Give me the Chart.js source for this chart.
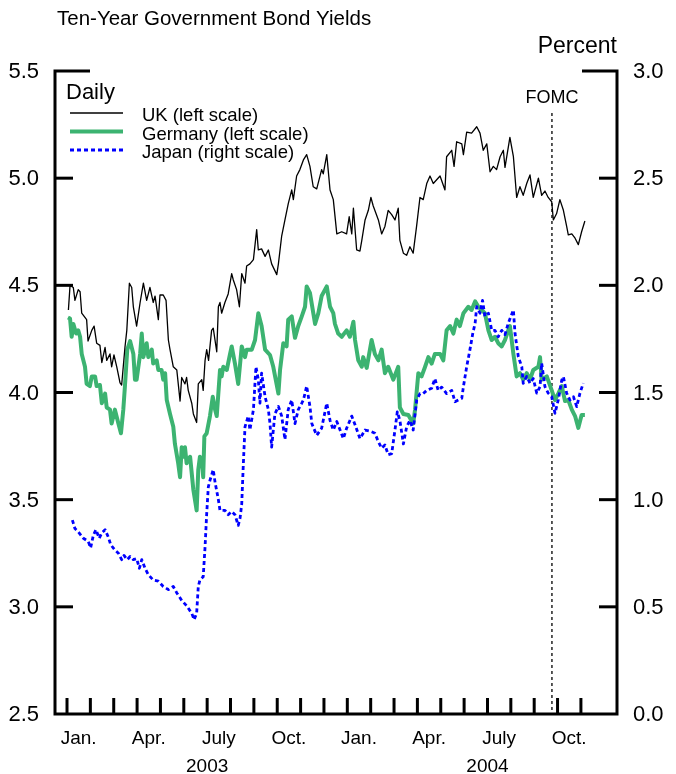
<!DOCTYPE html>
<html>
<head>
<meta charset="utf-8">
<script src="https://cdn.jsdelivr.net/npm/chart.js@4.4.1/dist/chart.umd.min.js"></script>
<style>
  html, body { margin: 0; padding: 0; background: #fff; }
  #wrap { width: 676px; height: 774px; position: relative; }
</style>
</head>
<body>
<div id="wrap"><canvas id="bondChart"></canvas></div>
<script>
//---------------data (x = months since Jan. 1, 2003)--------------------------
const ukMonth = [
  0.06,0.13,0.27,0.34,0.48,0.56,0.63,0.84,0.90,1.06,
  1.16,1.27,1.41,1.49,1.63,1.70,1.84,1.91,2.01,2.13,
  2.27,2.34,2.48,2.56,2.67,2.77,2.84,2.98,3.13,3.27,
  3.41,3.55,3.69,3.77,3.91,3.98,4.12,4.24,4.34,4.41,
  4.55,4.70,4.84,4.91,5.05,5.12,5.19,5.34,5.41,5.55,
  5.62,5.77,5.83,5.91,5.98,6.06,6.19,6.26,6.41,6.48,
  6.55,6.62,6.76,6.90,7.05,7.12,7.26,7.38,7.48,7.62,
  7.69,7.83,7.98,8.12,8.19,8.33,8.48,8.62,8.76,8.98,
  9.05,9.19,9.33,9.47,9.62,9.69,9.83,9.97,10.12,10.26,
  10.40,10.54,10.69,10.90,10.97,11.12,11.26,11.40,11.55,11.76,
  11.97,12.08,12.19,12.26,12.40,12.54,12.62,12.76,12.90,13.01,
  13.11,13.33,13.47,13.61,13.75,13.90,14.04,14.18,14.25,14.40,
  14.54,14.68,14.82,14.97,15.11,15.25,15.40,15.54,15.68,15.97,
  16.18,16.25,16.47,16.57,16.68,16.90,16.97,17.11,17.32,17.54,
  17.68,17.82,17.97,18.11,18.25,18.39,18.54,18.68,18.75,18.96,
  19.11,19.25,19.39,19.53,19.68,19.82,19.96,20.18,20.32,20.46,
  20.60,20.75,20.82,20.96,21.10,21.25,21.39,21.46,21.61,21.75,
  21.89,22.03,22.17
];
const ukYield = [
  4.385,4.50,4.49,4.43,4.48,4.47,4.37,4.34,4.24,4.29,
  4.31,4.23,4.22,4.14,4.21,4.15,4.18,4.12,4.175,4.12,
  4.045,4.035,4.21,4.29,4.51,4.49,4.40,4.31,4.42,4.51,
  4.43,4.49,4.42,4.45,4.34,4.455,4.455,4.43,4.245,4.20,
  4.12,4.105,3.96,4.07,4.04,4.07,4.01,3.95,3.90,3.86,
  4.04,4.06,4.01,4.15,4.20,4.15,4.29,4.30,4.19,4.40,
  4.42,4.37,4.42,4.46,4.555,4.525,4.48,4.40,4.555,4.51,
  4.59,4.60,4.62,4.76,4.665,4.67,4.635,4.665,4.60,4.55,
  4.60,4.73,4.805,4.88,4.945,4.90,5.01,5.04,5.085,5.11,
  5.055,4.96,4.95,5.04,5.02,5.11,4.945,4.90,4.74,4.75,
  4.74,4.82,4.74,4.86,4.665,4.66,4.71,4.805,4.85,4.91,
  4.87,4.805,4.74,4.775,4.85,4.83,4.805,4.86,4.71,4.65,
  4.64,4.68,4.65,4.78,4.91,4.90,4.975,5.01,4.975,5.01,
  4.945,5.10,5.13,5.055,5.17,5.16,5.11,5.215,5.21,5.24,
  5.21,5.13,5.16,5.03,5.055,5.04,5.10,5.13,5.05,5.19,
  5.10,4.91,4.96,4.92,4.975,5.015,4.91,5.00,4.92,4.94,
  4.91,4.89,4.805,4.835,4.90,4.85,4.775,4.735,4.74,4.72,
  4.69,4.75,4.80
];

const deMonth = [
  0.04,0.13,0.20,0.27,0.39,0.48,0.56,0.63,0.77,0.84,
  0.98,1.06,1.20,1.27,1.41,1.49,1.63,1.70,1.84,1.91,
  2.05,2.20,2.31,2.41,2.48,2.58,2.70,2.84,2.91,2.98,
  3.13,3.20,3.27,3.41,3.48,3.63,3.69,3.84,3.91,4.05,
  4.12,4.20,4.27,4.41,4.55,4.62,4.76,4.84,4.91,4.98,
  5.05,5.12,5.27,5.41,5.55,5.62,5.69,5.79,5.83,5.88,
  5.98,6.12,6.24,6.34,6.41,6.55,6.62,6.69,6.84,6.98,
  7.05,7.19,7.33,7.48,7.62,7.69,7.91,8.05,8.19,8.33,
  8.48,8.69,8.83,9.05,9.12,9.26,9.40,9.47,9.62,9.76,
  9.90,10.05,10.19,10.26,10.40,10.62,10.76,10.90,11.12,11.26,
  11.40,11.47,11.61,11.76,11.97,12.11,12.26,12.33,12.47,12.62,
  12.68,12.83,13.04,13.18,13.33,13.47,13.61,13.75,13.97,14.18,
  14.25,14.40,14.61,14.82,14.90,15.04,15.18,15.33,15.47,15.61,
  15.75,15.97,16.11,16.25,16.40,16.54,16.68,16.82,16.97,17.18,
  17.32,17.47,17.61,17.75,17.89,18.04,18.18,18.32,18.46,18.61,
  18.75,18.89,18.96,19.11,19.25,19.39,19.53,19.68,19.82,19.96,
  20.18,20.25,20.32,20.54,20.75,20.89,21.03,21.18,21.32,21.46,
  21.61,21.75,21.89,22.03,22.17
];
const deYield = [
  4.35,4.345,4.26,4.32,4.275,4.29,4.26,4.18,4.12,4.04,
  4.03,4.075,4.075,4.03,4.035,3.95,3.995,3.93,3.92,3.855,
  3.92,3.855,3.81,3.92,4.03,4.20,4.24,4.18,4.06,4.06,
  4.18,4.275,4.165,4.23,4.165,4.20,4.135,4.15,4.105,4.105,
  4.06,4.09,3.965,3.90,3.84,3.76,3.67,3.605,3.745,3.70,
  3.745,3.67,3.70,3.545,3.45,3.64,3.70,3.67,3.605,3.795,
  3.81,3.89,3.98,3.92,3.89,4.105,4.075,4.12,4.105,4.18,
  4.215,4.135,4.04,4.215,4.165,4.20,4.20,4.245,4.37,4.31,
  4.20,4.175,4.12,3.995,4.105,4.23,4.215,4.34,4.355,4.255,
  4.31,4.355,4.40,4.495,4.465,4.32,4.37,4.45,4.495,4.40,
  4.37,4.32,4.275,4.26,4.29,4.26,4.33,4.245,4.15,4.12,
  4.165,4.115,4.245,4.18,4.15,4.20,4.09,4.12,4.06,4.12,
  3.93,3.90,3.895,3.855,3.92,4.09,4.075,4.12,4.165,4.135,
  4.18,4.18,4.15,4.29,4.31,4.275,4.34,4.31,4.37,4.40,
  4.385,4.425,4.40,4.385,4.37,4.29,4.245,4.26,4.23,4.215,
  4.245,4.29,4.31,4.18,4.075,4.09,4.06,4.09,4.06,4.105,
  4.12,4.165,4.06,4.075,4.01,3.965,3.995,4.03,3.96,3.965,
  3.92,3.89,3.835,3.895,3.895
];

const jpMonth = [
  0.23,0.34,0.48,0.70,0.91,1.01,1.13,1.24,1.38,1.49,
  1.63,1.77,1.87,2.05,2.20,2.34,2.44,2.58,2.70,2.84,
  2.98,3.10,3.20,3.34,3.48,3.69,3.91,4.12,4.34,4.55,
  4.70,4.91,5.12,5.34,5.44,5.55,5.62,5.69,5.83,5.91,
  5.98,6.05,6.12,6.26,6.34,6.48,6.55,6.76,6.90,7.05,
  7.19,7.33,7.41,7.48,7.55,7.62,7.76,7.83,7.98,8.09,
  8.19,8.26,8.33,8.40,8.48,8.62,8.69,8.76,8.90,9.05,
  9.19,9.33,9.47,9.62,9.76,9.90,10.05,10.12,10.26,10.40,
  10.48,10.69,10.90,11.12,11.26,11.40,11.55,11.69,11.83,11.97,
  12.19,12.33,12.54,12.76,12.97,13.18,13.33,13.47,13.61,13.75,
  13.90,14.04,14.14,14.25,14.40,14.54,14.68,14.82,14.97,15.11,
  15.25,15.40,15.61,15.75,15.89,16.04,16.25,16.47,16.61,16.75,
  16.90,16.97,17.11,17.25,17.37,17.47,17.54,17.68,17.79,17.89,
  18.04,18.18,18.32,18.46,18.61,18.75,18.89,19.11,19.18,19.32,
  19.47,19.53,19.68,19.82,19.96,20.11,20.25,20.32,20.46,20.60,
  20.75,20.89,21.03,21.18,21.25,21.39,21.53,21.68,21.82,21.96,
  22.10
];
const jpYield = [
  0.905,0.865,0.85,0.82,0.805,0.775,0.835,0.86,0.82,0.845,
  0.86,0.825,0.79,0.765,0.75,0.72,0.74,0.72,0.735,0.72,
  0.725,0.68,0.72,0.68,0.65,0.625,0.62,0.595,0.58,0.595,
  0.565,0.53,0.505,0.47,0.44,0.47,0.595,0.625,0.64,0.78,
  0.935,1.06,1.09,1.14,1.08,1.00,0.95,0.95,0.93,0.945,
  0.93,0.88,0.915,0.98,1.17,1.34,1.39,1.325,1.42,1.62,
  1.56,1.45,1.59,1.54,1.48,1.42,1.355,1.245,1.40,1.435,
  1.39,1.28,1.42,1.465,1.355,1.42,1.45,1.465,1.53,1.435,
  1.355,1.30,1.333,1.45,1.37,1.325,1.365,1.325,1.285,1.333,
  1.39,1.35,1.285,1.325,1.32,1.31,1.27,1.24,1.255,1.21,
  1.215,1.325,1.41,1.37,1.26,1.34,1.37,1.325,1.465,1.495,
  1.495,1.51,1.52,1.565,1.51,1.525,1.495,1.51,1.457,1.465,
  1.473,1.527,1.62,1.70,1.775,1.823,1.90,1.87,1.93,1.855,
  1.87,1.79,1.79,1.76,1.79,1.77,1.823,1.885,1.775,1.667,
  1.62,1.543,1.575,1.543,1.565,1.497,1.527,1.637,1.527,1.497,
  1.48,1.403,1.465,1.558,1.574,1.497,1.465,1.48,1.434,1.497,
  1.543
];

// axis ticks and labels
const monthTicks = [0,1,2,3,4,5,6,7,8,9,10,11,12,13,14,15,16,17,18,19,20,21,22];
const quarterLabels = ["Jan.","Apr.","July","Oct.","Jan.","Apr.","July","Oct."];
const quarterPos = [0.5,3.5,6.5,9.5,12.5,15.5,18.5,21.5];
const yearLabels = ["2003","2004"];
const yearPos = [6,18];
const leftTicks = [2.5,3.0,3.5,4.0,4.5,5.0,5.5];
const rightTicks = [0.0,0.5,1.0,1.5,2.0,2.5,3.0];
const fomcMonth = 20.76;
//---------------data--------------------------

const FONT = '"Liberation Sans", Arial, Helvetica, sans-serif';

function pts(xs, ys) {
  return xs.map((m, i) => ({ x: m, y: ys[i] }));
}

// -------frame, ticks, labels, legend--------
const framePlugin = {
  id: "framePlugin",
  beforeDatasetsDraw(chart) {
    const { ctx, chartArea: a, scales } = chart;
    const fx = scales.x.getPixelForValue(fomcMonth);
    ctx.save();
    ctx.strokeStyle = "#000";
    ctx.lineWidth = 1.3;
    ctx.setLineDash([3, 3]);
    ctx.beginPath();
    ctx.moveTo(fx, 113);
    ctx.lineTo(fx, a.bottom);
    ctx.stroke();
    ctx.restore();
  },
  afterDraw(chart) {
    const { ctx, chartArea: a, scales } = chart;
    const sx = scales.x, yl = scales.y, yr = scales.y2;
    ctx.save();
    ctx.strokeStyle = "#000";
    ctx.fillStyle = "#000";
    ctx.lineWidth = 3;
    ctx.lineCap = "butt";

    // left, bottom, right lines
    ctx.beginPath();
    ctx.moveTo(a.left + 35, a.top);
    ctx.lineTo(a.left, a.top);
    ctx.lineTo(a.left, a.bottom);
    ctx.lineTo(a.right, a.bottom);
    ctx.lineTo(a.right, a.top);
    ctx.lineTo(a.right - 35, a.top);
    ctx.stroke();

    // y ticks
    leftTicks.slice(1, -1).forEach((v) => {
      const y = yl.getPixelForValue(v);
      ctx.beginPath();
      ctx.moveTo(a.left, y);
      ctx.lineTo(a.left + 18, y);
      ctx.stroke();
    });
    rightTicks.slice(1, -1).forEach((v) => {
      const y = yr.getPixelForValue(v);
      ctx.beginPath();
      ctx.moveTo(a.right, y);
      ctx.lineTo(a.right - 18, y);
      ctx.stroke();
    });

    // month ticks
    monthTicks.forEach((m) => {
      const x = sx.getPixelForValue(m);
      ctx.beginPath();
      ctx.moveTo(x, a.bottom);
      ctx.lineTo(x, a.bottom - 16);
      ctx.stroke();
    });

    // y labels
    ctx.font = "22px " + FONT;
    ctx.textBaseline = "middle";
    ctx.textAlign = "right";
    leftTicks.forEach((v) => {
      ctx.fillText(v.toFixed(1), a.left - 16, yl.getPixelForValue(v) + 1);
    });
    ctx.textAlign = "left";
    rightTicks.forEach((v) => {
      ctx.fillText(v.toFixed(1), a.right + 16, yr.getPixelForValue(v) + 1);
    });

    // x labels
    ctx.font = "19px " + FONT;
    ctx.textAlign = "center";
    ctx.textBaseline = "alphabetic";
    quarterLabels.forEach((t, i) => {
      ctx.fillText(t, sx.getPixelForValue(quarterPos[i]), 744);
    });
    yearLabels.forEach((t, i) => {
      ctx.fillText(t, sx.getPixelForValue(yearPos[i]), 772);
    });

    // titles
    ctx.font = "20.5px " + FONT;
    ctx.textAlign = "left";
    ctx.fillText("Ten-Year Government Bond Yields", 57, 25);
    ctx.font = "23px " + FONT;
    ctx.textAlign = "right";
    ctx.fillText("Percent", a.right, 53);

    // FOMC
    ctx.font = "18px " + FONT;
    ctx.textAlign = "center";
    ctx.fillText("FOMC", sx.getPixelForValue(fomcMonth), 103);

    // legend
    ctx.textAlign = "left";
    ctx.font = "22px " + FONT;
    ctx.fillText("Daily", 66, 99);
    ctx.font = "18.5px " + FONT;
    const rows = [113, 131.5, 150];
    chart.data.datasets.forEach((ds, i) => {
      const y = rows[i];
      ctx.save();
      ctx.strokeStyle = ds.borderColor;
      ctx.lineWidth = ds.borderWidth;
      ctx.setLineDash(ds.borderDash || []);
      ctx.beginPath();
      ctx.moveTo(70, y);
      ctx.lineTo(123, y);
      ctx.stroke();
      ctx.restore();
      ctx.fillText(ds.label, 142, y + 8);
    });

    ctx.restore();
  },
};
// -------frame, ticks, labels, legend--------

// -------bond yield chart--------
let chartInstance;
document.addEventListener("DOMContentLoaded", () => {
  const ctx = document.getElementById("bondChart").getContext("2d");

  chartInstance = new Chart(ctx, {
    type: "line",
    data: {
      datasets: [
        {
          label: "UK (left scale)",
          data: pts(ukMonth, ukYield),
          borderColor: "#000000",
          borderWidth: 1.3,
          yAxisID: "y",
          order: 1,
        },
        {
          label: "Germany (left scale)",
          data: pts(deMonth, deYield),
          borderColor: "#3cb371",
          borderWidth: 4,
          yAxisID: "y",
          order: 2,
        },
        {
          label: "Japan (right scale)",
          data: pts(jpMonth, jpYield),
          borderColor: "#0000ff",
          borderWidth: 2.8,
          borderDash: [4, 3],
          yAxisID: "y2",
          order: 0,
        },
      ],
    },
    options: {
      responsive: true,
      maintainAspectRatio: false,
      devicePixelRatio: 1,
      animation: false,
      layout: { padding: { left: 55, right: 59, top: 71, bottom: 60 } },
      elements: {
        point: { radius: 0 },
        line: { tension: 0, borderJoinStyle: "round" },
      },
      plugins: {
        legend: { display: false },
        tooltip: { enabled: false },
      },
      scales: {
        x: { type: "linear", min: -0.514, max: 23.545, display: false },
        y: { min: 2.5, max: 5.5, display: false },
        y2: { min: 0, max: 3, display: false },
      },
    },
    plugins: [framePlugin],
  });
});
// -------bond yield chart--------
</script>
</body>
</html>
